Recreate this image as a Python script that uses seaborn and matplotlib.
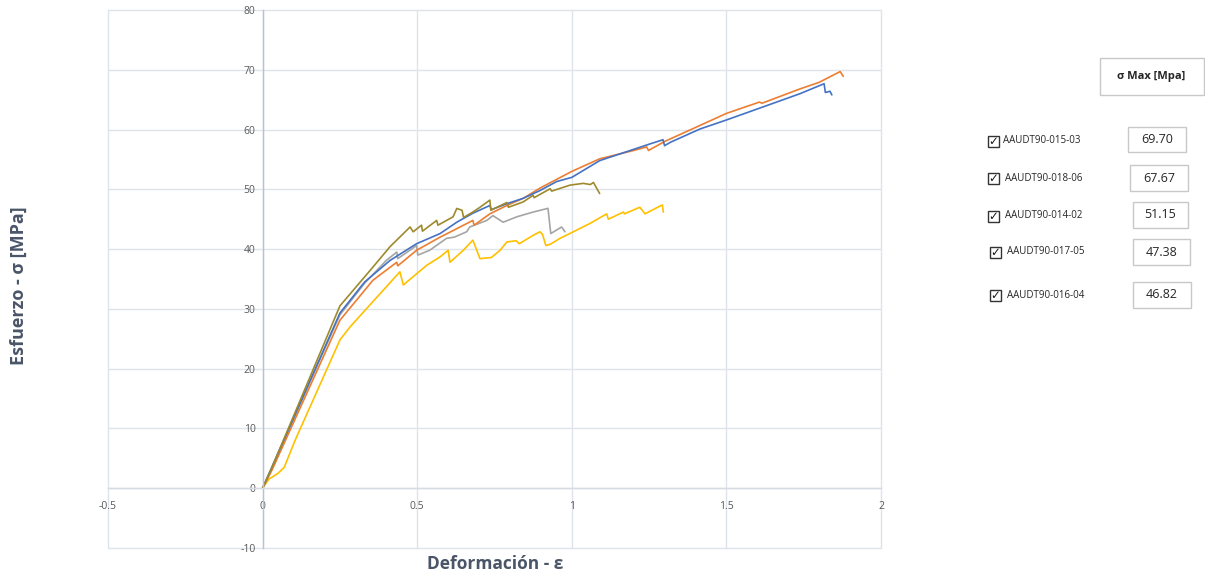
import numpy as np
import pandas as pd
import matplotlib
matplotlib.use("Agg")
import matplotlib.pyplot as plt
from matplotlib.patches import Rectangle
import seaborn as sns

# ---------------- data ----------------
names = ["AAUDT90-015-03", "AAUDT90-018-06", "AAUDT90-014-02", "AAUDT90-017-05", "AAUDT90-016-04"]
sigma_max = ["69.70", "67.67", "51.15", "47.38", "46.82"]

x_015_03 = [0, 0.03, 0.25, 0.357, 0.434, 0.437, 0.498, 0.574, 0.616, 0.68, 0.684, 0.735, 0.79, 0.843,
            0.897, 1.0, 1.09, 1.2, 1.242, 1.248, 1.3, 1.415, 1.5, 1.607, 1.615, 1.738, 1.8, 1.868, 1.878]
y_015_03 = [0, 3.0, 28.1, 34.8, 37.8, 37.2, 39.8, 42.0, 43.1, 44.8, 44.0, 45.9, 47.3, 48.5,
            50.2, 53.0, 55.1, 56.5, 57.1, 56.5, 58.0, 60.7, 62.7, 64.6, 64.4, 66.8, 67.9, 69.7, 68.9]

x_018_06 = [0, 0.25, 0.33, 0.412, 0.498, 0.574, 0.628, 0.68, 0.735, 0.74, 0.79, 0.843, 0.897, 0.951,
            1.0, 1.09, 1.253, 1.295, 1.3, 1.32, 1.415, 1.5, 1.63, 1.738, 1.816, 1.82, 1.835, 1.841]
y_018_06 = [0, 29.3, 34.5, 38.1, 40.9, 42.6, 44.5, 46.0, 47.3, 46.6, 47.6, 48.5, 49.8, 51.3,
            52.0, 54.8, 57.6, 58.3, 57.3, 57.9, 60.1, 61.6, 64.0, 66.0, 67.67, 66.2, 66.4, 65.8]

x_014_02 = [0, 0.028, 0.25, 0.357, 0.412, 0.477, 0.487, 0.514, 0.517, 0.563, 0.567, 0.616, 0.628,
            0.645, 0.65, 0.68, 0.703, 0.735, 0.738, 0.77, 0.79, 0.795, 0.843, 0.875, 0.878, 0.93,
            0.935, 0.994, 1.037, 1.06, 1.07, 1.09]
y_014_02 = [0, 3.2, 30.5, 37.0, 40.4, 43.7, 42.9, 44.0, 43.0, 44.8, 44.0, 45.4, 46.8,
            46.5, 45.3, 46.2, 47.0, 48.2, 46.5, 47.3, 47.8, 47.0, 47.9, 49.0, 48.6, 50.1,
            49.7, 50.7, 51.0, 50.8, 51.15, 49.3]

x_017_05 = [0, 0.02, 0.05, 0.07, 0.105, 0.25, 0.283, 0.444, 0.455, 0.531, 0.574, 0.6, 0.606, 0.649,
            0.68, 0.703, 0.74, 0.768, 0.79, 0.82, 0.83, 0.875, 0.897, 0.905, 0.916, 0.93, 0.962,
            1.005, 1.059, 1.113, 1.118, 1.167, 1.17, 1.22, 1.237, 1.285, 1.293, 1.296]
y_017_05 = [0, 1.5, 2.5, 3.5, 8.0, 24.8, 27.0, 36.2, 34.0, 37.3, 38.7, 39.8, 37.8, 39.8,
            41.5, 38.4, 38.6, 39.8, 41.2, 41.4, 40.9, 42.3, 42.9, 42.5, 40.6, 40.8, 41.8,
            42.9, 44.3, 45.9, 45.0, 46.2, 45.9, 47.0, 45.9, 47.2, 47.38, 46.2]

x_016_04 = [0, 0.25, 0.33, 0.4, 0.434, 0.437, 0.498, 0.502, 0.54, 0.595, 0.62, 0.66, 0.67, 0.725,
            0.745, 0.778, 0.822, 0.875, 0.923, 0.932, 0.967, 0.978]
y_016_04 = [0, 29.0, 34.3, 38.1, 39.5, 38.4, 40.6, 39.0, 39.8, 41.8, 42.0, 42.9, 43.7, 44.8,
            45.6, 44.5, 45.4, 46.2, 46.82, 42.6, 43.7, 42.9]

x_ticks = [-0.5, 0, 0.5, 1, 1.5, 2]
x_tick_labels = ["-0.5", "0", "0.5", "1", "1.5", "2"]
y_ticks = [-10, 0, 10, 20, 30, 40, 50, 60, 70, 80]

series = {
    "AAUDT90-016-04": (x_016_04, y_016_04),
    "AAUDT90-017-05": (x_017_05, y_017_05),
    "AAUDT90-015-03": (x_015_03, y_015_03),
    "AAUDT90-018-06": (x_018_06, y_018_06),
    "AAUDT90-014-02": (x_014_02, y_014_02),
}
palette = {
    "AAUDT90-015-03": "#ED7D31",
    "AAUDT90-018-06": "#4472C4",
    "AAUDT90-014-02": "#9E8A2C",
    "AAUDT90-017-05": "#FFC000",
    "AAUDT90-016-04": "#A5A5A5",
}

rows = []
for name, (xs, ys) in series.items():
    for i, (xv, yv) in enumerate(zip(xs, ys)):
        rows.append({"serie": name, "idx": i, "def": xv, "esf": yv})
df = pd.DataFrame(rows)

# ---------------- figure ----------------
sns.set_style("white")
plt.rcParams["font.family"] = ["Open Sans", "DejaVu Sans"]
plt.rcParams["axes.unicode_minus"] = False

W, H = 1205, 577
fig = plt.figure(figsize=(W / 100, H / 100), dpi=100)
ax = fig.add_axes([108 / W, 1 - 548 / H, (881 - 108) / W, (548 - 10) / H])

sns.lineplot(data=df, x="def", y="esf", hue="serie", units="serie", estimator=None,
             sort=False, palette=palette, hue_order=list(series.keys()),
             linewidth=1.2, legend=False, ax=ax)

ax.set_xlim(-0.5, 2)
ax.set_ylim(-10, 80)
ax.set_xticks(x_ticks)
ax.set_xticklabels(x_tick_labels)
ax.set_yticks(y_ticks)
ax.set_xlabel("")
ax.set_ylabel("")

grid_c = "#DFE3EA"
for xv in x_ticks:
    ax.axvline(xv, color=grid_c, lw=1, zorder=0, clip_on=False)
for yv in y_ticks:
    ax.axhline(yv, color=grid_c, lw=1, zorder=0, clip_on=False)

for s in ["top", "right"]:
    ax.spines[s].set_visible(False)
ax.spines["left"].set_position(("data", 0))
ax.spines["bottom"].set_position(("data", 0))
ax.spines["left"].set_color("#B8C2D3")
ax.spines["bottom"].set_color("#D5DAE3")
ax.spines["left"].set_linewidth(1)
ax.spines["bottom"].set_linewidth(1)

tick_c = "#595959"
ax.tick_params(axis="y", length=3, width=0.8, color="#B8C2D3", pad=2, labelsize=7.5, labelcolor=tick_c)
ax.tick_params(axis="x", length=0, pad=9, labelsize=7.5, labelcolor=tick_c)

lab_c = "#4A5568"
fig.text(19 / W, 1 - 286 / H, "Esfuerzo - σ [MPa]", rotation=90, ha="center", va="center",
         fontsize=13, fontweight="bold", color=lab_c)
fig.text(495 / W, 1 - 564 / H, "Deformación - ε", ha="center", va="center",
         fontsize=12.5, fontweight="bold", color=lab_c)


def box(x0, y0, x1, y1, ec="#C8C8C8", lw=1.0, fill=False, fc="none"):
    fig.add_artist(Rectangle((x0 / W, 1 - y1 / H), (x1 - x0) / W, (y1 - y0) / H,
                             transform=fig.transFigure, fill=fill, facecolor=fc,
                             edgecolor=ec, lw=lw))


# header box
box(1100, 58, 1204, 95)
fig.text(1151 / W, 1 - 77 / H, "σ Max [Mpa]", ha="center", va="center", fontsize=8,
         fontweight="bold", color="#262626")

cb_pos = [(993, 141), (993, 178), (993, 216), (995, 252), (995, 295)]
lab_x = [1003, 1005, 1005, 1007, 1007]
val_boxes = [(1128, 127, 1186, 152), (1130, 165, 1188, 191), (1133, 202, 1188, 228),
             (1133, 239, 1190, 265), (1133, 282, 1191, 308)]
for name, val, (cx, cy), lx, (bx0, by0, bx1, by1) in zip(names, sigma_max, cb_pos, lab_x, val_boxes):
    box(cx - 5.5, cy - 5, cx + 5.5, cy + 6, ec="#333333", lw=1.0)
    fig.text(cx / W, 1 - (cy + 0.5) / H, "✓", ha="center", va="center", fontsize=8.5,
             fontweight="bold", family=["DejaVu Sans"], color="#1a1a1a")
    fig.text(lx / W, 1 - cy / H, name, ha="left", va="center", fontsize=7, color="#262626")
    box(bx0, by0, bx1, by1)
    fig.text((bx0 + bx1) / 2 / W, 1 - (by0 + by1) / 2 / H, val, ha="center", va="center",
             fontsize=9, color="#262626")

fig.savefig("out.png", dpi=100)
